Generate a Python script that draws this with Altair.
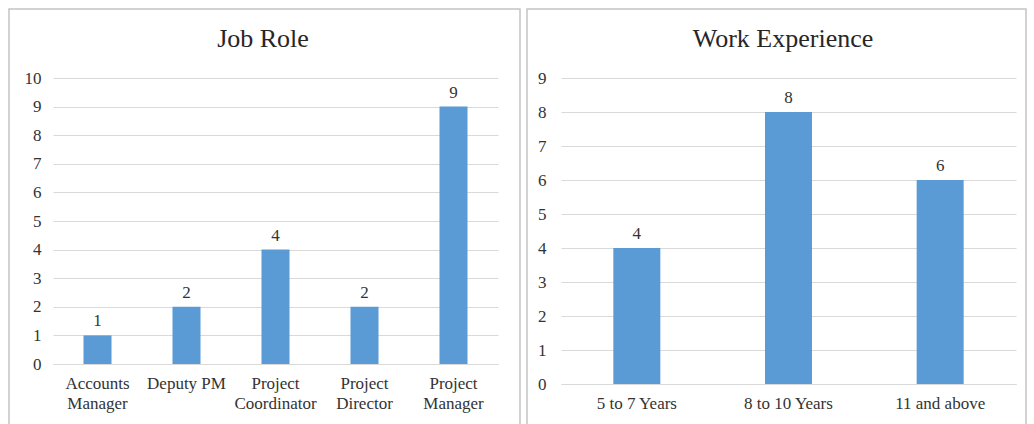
import altair as alt
import pandas as pd

roles = ["Accounts Manager", "Deputy PM", "Project Coordinator", "Project Director", "Project Manager"]
role_counts = [1, 2, 4, 2, 9]
experience = ["5 to 7 Years", "8 to 10 Years", "11 and above"]
experience_counts = [4, 8, 6]

FONT = "Liberation Serif"
BAR = "#5B9BD5"
GRID = "#d9d9d9"
TXT = "#333333"
BORDER = "#c4c4c4"


def panel(cats, vals, title, ymax, w, h, inner, ylabpad, title_x, box, label_expr=None):
    df = pd.DataFrame({"cat": cats, "val": vals})
    xaxis = dict(title=None, labelAngle=0, tickSize=0, domainColor=GRID,
                 labelFont=FONT, labelFontSize=17, labelColor=TXT,
                 labelPadding=11, labelLineHeight=20, grid=False)
    if label_expr:
        xaxis["labelExpr"] = label_expr
    x = alt.X("cat:N", sort=cats,
              scale=alt.Scale(paddingInner=inner, paddingOuter=inner / 2),
              axis=alt.Axis(**xaxis))
    y = alt.Y("val:Q", scale=alt.Scale(domain=[0, ymax], nice=False),
              axis=alt.Axis(title=None, values=list(range(0, ymax + 1)),
                            tickSize=0, domain=False, gridColor=GRID,
                            labelFont=FONT, labelFontSize=17, labelColor=TXT,
                            labelPadding=ylabpad))
    base = alt.Chart(df)
    bars = base.mark_bar(color=BAR).encode(x=x, y=y)
    labels = base.mark_text(font=FONT, fontSize=17, color=TXT, dy=-9,
                            baseline="alphabetic").encode(x=x, y=y, text="val:Q")
    tdf = pd.DataFrame({"t": [title]})
    ttl = alt.Chart(tdf).mark_text(font=FONT, fontSize=26, color="#262626",
                                   baseline="middle", align="center").encode(
        x=alt.value(title_x), y=alt.value(-39), text="t:N")
    border = alt.Chart(tdf).mark_rect(fill="white", fillOpacity=0, stroke=BORDER,
                                      strokeWidth=1.5).encode(
        x=alt.value(box[0]), x2=alt.value(box[1]),
        y=alt.value(box[2]), y2=alt.value(box[3]))
    return alt.layer(border, bars, labels, ttl).properties(width=w, height=h)


left = panel(roles, role_counts, "Job Role", 10, 445, 286, 0.685, 12, 210,
             (-44, 467, -69, 353),
             label_expr="datum.label == 'Deputy PM' ? datum.label : split(datum.label, ' ')")
right = panel(experience, experience_counts, "Work Experience", 9, 455, 306, 0.69, 15, 222,
              (-34, 465, -69, 353))

chart = alt.hconcat(left, right, spacing=5).properties(
    padding={"left": 8, "top": 8, "right": 0, "bottom": 0},
    background="white",
).configure_view(strokeWidth=0)

chart.save("out.html", embed_options={"renderer": "svg", "actions": False})
